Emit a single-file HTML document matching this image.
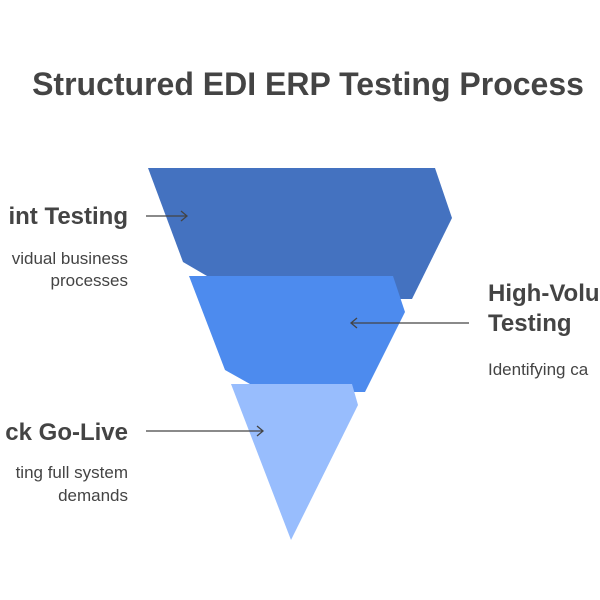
<!DOCTYPE html>
<html><head><style>html,body{margin:0;padding:0;background:#fff;}svg{display:block}</style></head>
<body>
<svg width="600" height="600" viewBox="0 0 600 600" xmlns="http://www.w3.org/2000/svg" font-family="Liberation Sans, Arial, sans-serif">
<rect width="600" height="600" fill="#fff"/>
<text x="308" y="95" text-anchor="middle" font-size="32" font-weight="bold" fill="#444">Structured EDI ERP Testing Process</text>
<polygon points="148,168 435,168 452,218 412,299 300,299 207,276 183,262" fill="#4472c0"/>
<polygon points="189,276 393,276 405,312 365,392 300,392 250,384 225,370" fill="#4d8bee"/>
<polygon points="231,384 352,384 358,405 291,540" fill="#98bdfd"/>
<g stroke="#444" stroke-width="1.3" fill="none">
<line x1="146" y1="216" x2="187" y2="216"/><polyline points="181,211 187,216 181,221"/>
<line x1="469" y1="323" x2="351" y2="323"/><polyline points="357,318 351,323 357,328"/>
<line x1="146" y1="431" x2="263" y2="431"/><polyline points="257,426 263,431 257,436"/>
</g>
<g fill="#444" text-anchor="end">
<text x="128" y="224" font-size="24" font-weight="bold">int Testing</text>
<text x="128" y="264" font-size="17">vidual business</text>
<text x="128" y="286" font-size="17">processes</text>
<text x="128" y="440" font-size="24" font-weight="bold">ck Go-Live</text>
<text x="128" y="478" font-size="17">ting full system</text>
<text x="128" y="501" font-size="17">demands</text>
</g>
<g fill="#444">
<text x="488" y="301" font-size="24" font-weight="bold">High-Volu</text>
<text x="488" y="331" font-size="24" font-weight="bold">Testing</text>
<text x="488" y="375" font-size="17">Identifying ca</text>
</g>
</svg>
</body></html>
